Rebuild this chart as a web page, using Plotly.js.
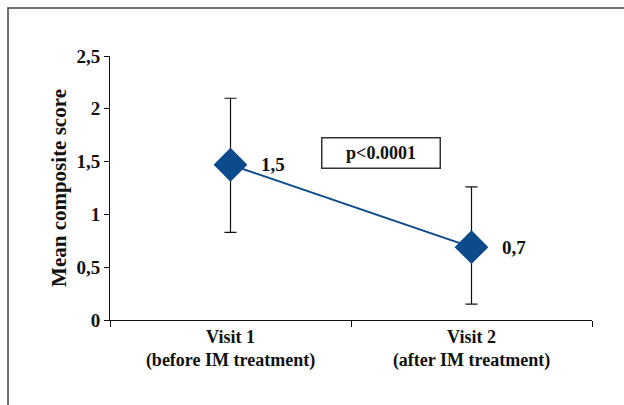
<!DOCTYPE html>
<html>
<head>
<meta charset="utf-8">
<script src="https://cdn.plot.ly/plotly-3.0.1.min.js"></script>
<style>
html,body{margin:0;padding:0;background:#fff;}
#chart{width:624px;height:405px;}
</style>
</head>
<body>
<div id="chart"></div>
<script>
var categories = ["Visit 1<br>(before IM treatment)", "Visit 2<br>(after IM treatment)"];
var meanScore = [1.47, 0.69];
var upperBound = [2.10, 1.26];
var lowerBound = [0.83, 0.15];
var valueLabels = ["1,5", "0,7"];
var pText = "p<0.0001";

var errPlus = meanScore.map(function(v, i){ return upperBound[i] - v; });
var errMinus = meanScore.map(function(v, i){ return v - lowerBound[i]; });

var font = "'Liberation Serif', 'Times New Roman', serif";

var trace = {
  type: "scatter",
  mode: "lines+markers",
  x: categories,
  y: meanScore,
  line: {color: "#0b4a8b", width: 2},
  marker: {symbol: "diamond", size: 26, color: "#0b4a8b"},
  error_y: {type: "data", symmetric: false, array: errPlus, arrayminus: errMinus,
            color: "#111", thickness: 1.2, width: 6},
  hoverinfo: "none",
  showlegend: false
};

var annotations = valueLabels.map(function(t, i){
  return {x: categories[i], y: meanScore[i], xref: "x", yref: "y", text: t,
          showarrow: false, xanchor: "left", yanchor: "middle", xshift: 28,
          font: {family: font, size: 19, color: "#111", weight: 700}};
});
annotations.push({
  x: 0.562, y: 1.58, xref: "paper", yref: "y", text: pText,
  showarrow: false, xanchor: "center", yanchor: "middle",
  width: 115, height: 27, bordercolor: "#333", borderwidth: 1.5, borderpad: 1,
  font: {family: font, size: 18, color: "#111", weight: 700}
});

var layout = {
  width: 624, height: 405,
  margin: {l: 110, r: 32, t: 56, b: 85},
  paper_bgcolor: "#fff", plot_bgcolor: "#fff",
  separators: ",.",
  font: {family: font, color: "#111", weight: 700},
  xaxis: {
    type: "category", range: [-0.5, 1.5], tickson: "boundaries",
    showline: true, linecolor: "#111", linewidth: 1,
    ticks: "outside", ticklen: 6, tickcolor: "#111",
    showgrid: false, zeroline: false,
    tickfont: {family: font, size: 18, color: "#111", weight: 700}
  },
  yaxis: {
    range: [0, 2.5], dtick: 0.5, tick0: 0,
    showline: true, linecolor: "#111", linewidth: 1,
    ticks: "outside", ticklen: 5, tickcolor: "#111",
    showgrid: false, zeroline: false,
    tickfont: {family: font, size: 19, color: "#111", weight: 700},
    title: {text: "Mean composite score", font: {family: font, size: 21, color: "#111", weight: 700}, standoff: 4}
  },
  annotations: annotations,
  shapes: [{
    type: "rect", xref: "paper", yref: "paper",
    x0: -0.2116, x1: 1.2, y0: -0.5, y1: 1.1818,
    line: {color: "#444", width: 1.5}
  }]
};

Plotly.newPlot("chart", [trace], layout, {staticPlot: true, displayModeBar: false});
</script>
</body>
</html>
